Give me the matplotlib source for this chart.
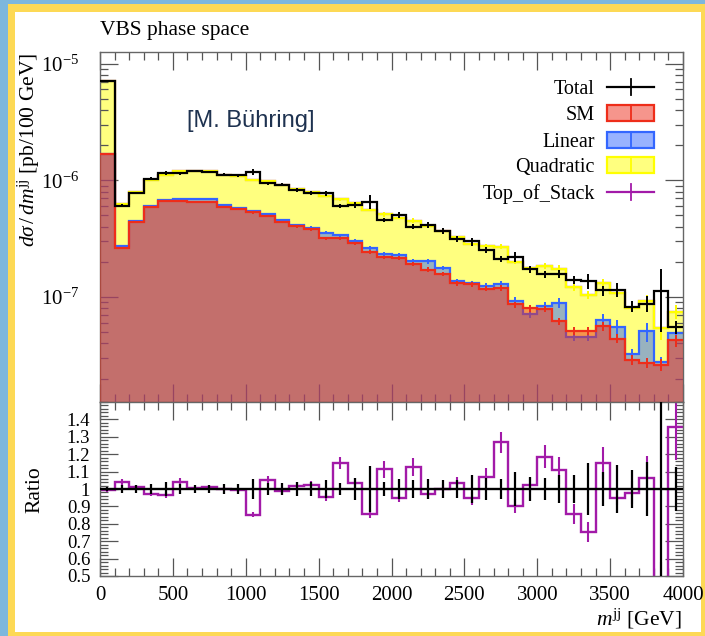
import numpy as np
import matplotlib

matplotlib.use('agg')

import matplotlib.pyplot as plt
from matplotlib.patches import Rectangle
from matplotlib.lines import Line2D
from matplotlib.ticker import MultipleLocator, LogLocator, NullFormatter, FixedLocator, FixedFormatter

plt.rcParams['font.family'] = ['Liberation Serif', 'DejaVu Serif']
plt.rcParams['mathtext.fontset'] = 'custom'
plt.rcParams['mathtext.rm'] = 'Liberation Serif'
plt.rcParams['mathtext.it'] = 'Liberation Serif:italic'
plt.rcParams['mathtext.bf'] = 'Liberation Serif:bold'

# m_jj binning, 100 GeV bins from 0 to 4 TeV
edges = np.arange(0, 4001, 100)
unit = 1e-7  # values below are in units of 1e-7 pb / 100 GeV

# SM only
sm = [16.7, 2.61, 4.35, 5.91, 6.66, 6.62, 6.49, 6.49, 5.95, 5.66,
      5.30, 4.96, 4.41, 4.02, 3.79, 3.20, 3.20, 2.88, 2.44, 2.19,
      2.16, 1.92, 1.72, 1.58, 1.31, 1.28, 1.18, 1.19, 0.863, 0.80,
      0.79, 0.618, 0.511, 0.511, 0.560, 0.440, 0.291, 0.272, 0.264, 0.426]
# SM + linear (stacked)
sm_lin = [16.9, 2.75, 4.50, 6.07, 6.79, 6.92, 6.89, 6.89, 6.12, 5.84,
          5.47, 5.13, 4.61, 4.13, 3.94, 3.55, 3.39, 3.03, 2.63, 2.34,
          2.31, 2.05, 2.02, 1.77, 1.36, 1.31, 1.25, 1.30, 0.933, 0.71,
          0.845, 0.895, 0.454, 0.454, 0.638, 0.552, 0.327, 0.508, 0.276, 0.491]
# SM + linear + quadratic (top of stack)
stack_top = [70.9, 6.31, 7.88, 10.02, 11.11, 11.96, 12.07, 11.95, 11.2, 10.93,
             10.07, 9.92, 9.05, 8.47, 7.92, 7.38, 6.89, 6.35, 5.62, 5.10,
             4.75, 4.50, 4.03, 3.70, 3.25, 2.83, 2.72, 2.69, 2.00, 1.78,
             1.85, 1.75, 1.21, 1.04, 1.31, 1.09, 0.812, 0.930, 0.54, 0.750]
# full EFT sample
total = [71.3, 6.07, 7.80, 10.3, 11.5, 11.5, 12.0, 11.8, 11.2, 11.0,
         11.8, 9.42, 9.17, 8.31, 7.74, 7.74, 6.00, 6.15, 6.56, 4.58,
         5.02, 4.00, 4.16, 3.69, 3.15, 2.99, 2.54, 2.12, 2.22, 1.74,
         1.56, 1.58, 1.41, 1.38, 1.14, 1.15, 0.829, 0.875, 1.12, 0.552]

# relative MC uncertainties
total_err = [0.013, 0.025, 0.021, 0.031, 0.040, 0.029, 0.021, 0.023, 0.027, 0.029,
             0.059, 0.033, 0.033, 0.038, 0.042, 0.052, 0.036, 0.061, 0.134, 0.042,
             0.057, 0.052, 0.059, 0.052, 0.054, 0.080, 0.065, 0.057, 0.098, 0.069,
             0.061, 0.080, 0.078, 0.149, 0.099, 0.138, 0.107, 0.157, 0.55, 0.128]
top_err = [0.01, 0.02, 0.01, 0.015, 0.02, 0.02, 0.01, 0.012, 0.01, 0.01,
           0.02, 0.02, 0.015, 0.02, 0.02, 0.025, 0.03, 0.03, 0.025, 0.043,
           0.025, 0.046, 0.025, 0.025, 0.035, 0.04, 0.047, 0.048, 0.045, 0.041,
           0.057, 0.069, 0.066, 0.078, 0.082, 0.04, 0.07, 0.12, 0.2, 0.14]
sm_err = [0.01, 0.02, 0.015, 0.015, 0.015, 0.015, 0.015, 0.015, 0.015, 0.02,
          0.02, 0.02, 0.02, 0.025, 0.025, 0.03, 0.03, 0.03, 0.035, 0.035,
          0.04, 0.04, 0.045, 0.045, 0.05, 0.05, 0.055, 0.06, 0.06, 0.065,
          0.065, 0.07, 0.08, 0.08, 0.09, 0.09, 0.1, 0.1, 0.12, 0.12]
lin_err = [0.01, 0.02, 0.015, 0.015, 0.015, 0.015, 0.015, 0.015, 0.015, 0.02,
           0.02, 0.02, 0.02, 0.025, 0.025, 0.03, 0.03, 0.03, 0.035, 0.035,
           0.04, 0.04, 0.045, 0.045, 0.05, 0.05, 0.06, 0.06, 0.065, 0.07,
           0.07, 0.1, 0.08, 0.08, 0.12, 0.15, 0.1, 0.19, 0.12, 0.13]

ratio_ticks = [0.5, 0.6, 0.7, 0.8, 0.9, 1.0, 1.1, 1.2, 1.3, 1.4]
ratio_labels = ['0.5', '0.6', '0.7', '0.8', '0.9', '1', '1.1', '1.2', '1.3', '1.4']

c_total = 'black'
c_sm = '#ee2d1a'
c_lin = '#3366ff'
c_quad = '#ffff00'
c_top = '#a21aa8'

centers = 0.5 * (edges[:-1] + edges[1:])
sm = np.array(sm) * unit
sm_lin = np.array(sm_lin) * unit
stack_top = np.array(stack_top) * unit
total = np.array(total) * unit

W, H = 705, 636
fig = plt.figure(figsize=(W / 100, H / 100), dpi=100, facecolor='#7db7dd')
fig.patches.append(Rectangle((8 / W, 0), 697 / W, 632 / H, transform=fig.transFigure,
                             facecolor='#fdd955', edgecolor='none', zorder=-10))
fig.patches.append(Rectangle((15 / W, 4 / H), 686 / W, 620 / H, transform=fig.transFigure,
                             facecolor='white', edgecolor='none', zorder=-9))

ax = fig.add_axes([100 / W, 1 - 402 / H, 583 / W, 350 / H])
rax = fig.add_axes([100 / W, 1 - 576 / H, 583 / W, 174 / H])


def draw_hist(a, vals, rel_err, col, z, fill=True):
    if fill:
        a.stairs(vals, edges, baseline=1e-12, fill=True, facecolor=col,
                 edgecolor='none', alpha=0.5, zorder=z)
    a.stairs(vals, edges, baseline=None, color=col, lw=1.6, zorder=z + 0.1)
    a.errorbar(centers, vals, yerr=vals * np.array(rel_err), fmt='none',
               ecolor=col, elinewidth=1.4, zorder=z + 0.1)


# stacked contributions, each filled semi-transparent on top of the last
draw_hist(ax, stack_top, top_err, c_top, 1.0, fill=False)
draw_hist(ax, stack_top, top_err, c_quad, 1.5)
draw_hist(ax, sm_lin, lin_err, c_lin, 2)
draw_hist(ax, sm, sm_err, c_sm, 3)
draw_hist(ax, total, total_err, c_total, 4, fill=False)

ax.set_yscale('log')
ax.set_xlim(0, 4000)
ax.set_ylim(1.26e-8, 1.257e-5)
ax.yaxis.set_major_locator(LogLocator(base=10, numticks=20))
ax.yaxis.set_minor_locator(LogLocator(base=10, subs=np.arange(2, 10), numticks=50))
ax.yaxis.set_minor_formatter(NullFormatter())

# ratio to the full sample
ratio = stack_top / total
ones = np.ones_like(ratio)
rax.stairs(ratio, edges, baseline=None, color=c_top, lw=1.7, zorder=2)
rax.errorbar(centers, ratio, yerr=ratio * np.array(top_err), fmt='none',
             ecolor=c_top, elinewidth=1.5, zorder=2)
rax.stairs(ones, edges, baseline=None, color=c_total, lw=1.7, zorder=3)
rax.errorbar(centers, ones, yerr=total_err, fmt='none', ecolor=c_total,
             elinewidth=1.6, zorder=3)
rax.set_xlim(0, 4000)
rax.set_ylim(0.5, 1.5)
rax.yaxis.set_major_locator(FixedLocator(ratio_ticks))
rax.yaxis.set_major_formatter(FixedFormatter(ratio_labels))
rax.yaxis.set_minor_locator(MultipleLocator(0.02))

for a in (ax, rax):
    a.xaxis.set_major_locator(MultipleLocator(500))
    a.xaxis.set_minor_locator(MultipleLocator(100))
    a.tick_params(which='both', direction='in', top=True, right=True,
                  color='#555555', width=0.9, labelsize=15)
    a.tick_params(which='major', length=13)
    a.tick_params(which='minor', length=6)
    for s in a.spines.values():
        s.set_color('#666666')
        s.set_linewidth(1.0)
ax.tick_params(labelbottom=False)
ax.tick_params(axis='y', which='major', pad=15)
rax.tick_params(axis='y', which='major', pad=7, labelsize=13.5)
rax.tick_params(axis='x', which='major', pad=7)

fig.text(100 / W, 1 - 35 / H, 'VBS phase space', fontsize=15.5, ha='left', va='baseline')
fig.text(29 / W, 1 - 53 / H, r'$d\sigma\,/\,dm^{\mathrm{jj}}$ [pb/100 GeV]', fontsize=15.5,
         rotation=90, ha='center', va='top')
fig.text(35 / W, 1 - 490 / H, 'Ratio', fontsize=15.5, rotation=90, ha='center', va='center')
fig.text(682 / W, 1 - 625 / H, r'$m^{\mathrm{jj}}$ [GeV]', fontsize=15.5, ha='right', va='baseline')

ax.text(0.149, 0.786, '[M. Bühring]', transform=ax.transAxes, fontsize=17,
        family='Liberation Sans', color='#1e3250', ha='left', va='baseline')

# legend: labels right-aligned, handles to their right
rows = [('Total', 'line', c_total), ('SM', 'patch', c_sm), ('Linear', 'patch', c_lin),
        ('Quadratic', 'patch', c_quad), ('Top_of_Stack', 'line', c_top)]
row_y = [0.900, 0.826, 0.749, 0.677, 0.600]
hx0, hx1 = 0.870, 0.950
hh = 0.0457
for (lab, kind, col), y in zip(rows, row_y):
    ax.text(0.849, y - 0.02, lab, transform=ax.transAxes, fontsize=14.5,
            ha='right', va='baseline', zorder=10)
    xm = 0.5 * (hx0 + hx1)
    if kind == 'patch':
        ax.add_patch(Rectangle((hx0, y - hh / 2), hx1 - hx0, hh, transform=ax.transAxes,
                               facecolor=col, alpha=0.5, edgecolor='none', zorder=10))
        ax.add_patch(Rectangle((hx0, y - hh / 2), hx1 - hx0, hh, transform=ax.transAxes,
                               facecolor='none', edgecolor=col, lw=1.6, zorder=10))
    else:
        ax.add_line(Line2D([hx0, hx1], [y, y], transform=ax.transAxes, color=col,
                           lw=1.6, zorder=10))
    ax.add_line(Line2D([xm, xm], [y - hh / 2, y + hh / 2], transform=ax.transAxes,
                       color=col, lw=1.3, zorder=10))

fig.savefig('out.png', dpi=100)
